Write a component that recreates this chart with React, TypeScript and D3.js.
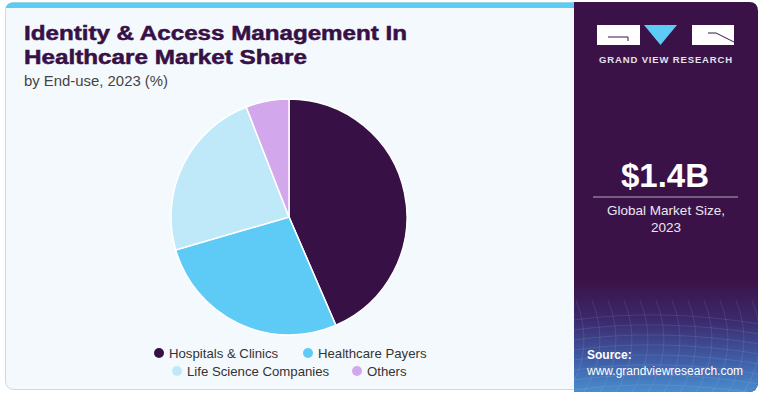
import React from "react";
import * as d3 from "d3";

const categories = ["Hospitals & Clinics", "Healthcare Payers", "Life Science Companies", "Others"];
const shares = [43.5, 27.0, 23.6, 5.9];
const colors = ["#371046", "#5ecbf6", "#bfe9f9", "#d3a7ec"];
const titleLines = ["Identity & Access Management In", "Healthcare Market Share"];
const subtitle = "by End-use, 2023 (%)";
const marketSize = "$1.4B";
const marketLabel = ["Global Market Size,", "2023"];

export default function App() {
  const W = 765, H = 396;
  const cx = 289, cy = 217, r = 118;
  const pie = d3.pie<number>().sort(null).value((d) => d)(shares);
  const arc = d3.arc<d3.PieArcDatum<number>>().innerRadius(0).outerRadius(r);

  const legendPos = [
    { x: 159, y: 353 },
    { x: 308, y: 353 },
    { x: 177, y: 371 },
    { x: 357, y: 371 },
  ];

  // decorative mesh in source area
  const meshLines: string[] = [];
  for (let i = 0; i < 14; i++) {
    const x0 = 560 + i * 16;
    meshLines.push(`M${x0},300 Q${x0 + 20},350 ${x0 - 10},395`);
  }
  for (let j = 0; j < 8; j++) {
    const y0 = 320 + j * 10;
    meshLines.push(`M574,${y0} Q660,${y0 - 12} 760,${y0 + 4}`);
  }

  const font = "'Liberation Sans', Arial, sans-serif";

  return (
    <div style={{ position: "absolute", left: 0, top: 0 }}>
      <svg width={W} height={H} style={{ display: "block" }}>
        <defs>
          <linearGradient id="srcGrad" x1="0" y1="0" x2="0" y2="1">
            <stop offset="0" stopColor="#3b1247" />
            <stop offset="0.35" stopColor="#3b2a6e" />
            <stop offset="0.7" stopColor="#3f5fa8" />
            <stop offset="1" stopColor="#4b93d3" />
          </linearGradient>
          <clipPath id="panelClip">
            <path d="M574,2 H749 Q758,2 758,11 V382 Q758,392 748,392 H574 Z" />
          </clipPath>
        </defs>
        <rect x={0} y={0} width={W} height={H} fill="#ffffff" />
        {/* card */}
        <rect x={5.5} y={2.5} width={752} height={387} rx={8} fill="#f4f9fd" stroke="#d4d6d9" strokeWidth={1} />
        <path d="M5.5,10 Q5.5,2.5 13,2.5 H574 V8 H5.5 Z" fill="#5ecbf6" />
        {/* right panel */}
        <g clipPath="url(#panelClip)">
          <rect x={574} y={0} width={190} height={396} fill="#3b1247" />
          <rect x={574} y={280} width={190} height={116} fill="url(#srcGrad)" />
          {meshLines.map((d, i) => (
            <path key={i} d={d} fill="none" stroke="#ffffff" strokeOpacity={0.12} strokeWidth={0.8} />
          ))}
        </g>
        {/* logo */}
        <rect x={597} y={25} width={43} height={20} fill="#ffffff" />
        <path d="M608,37 H628 V41" fill="none" stroke="#3b1247" strokeWidth={1} />
        <path d="M644,25 L677,25 L660.5,45 Z" fill="#5ecbf6" />
        <rect x={692} y={25} width={42} height={20} fill="#ffffff" />
        <path d="M716,33 L734,42" fill="none" stroke="#3b1247" strokeWidth={1} />
        <path d="M708,33 H716" fill="none" stroke="#3b1247" strokeWidth={1} />
        <text x={666} y={63} textAnchor="middle" fill="#e6e1ea" fontFamily={font} fontWeight="bold" fontSize={9.5} letterSpacing={0.85}>
          GRAND VIEW RESEARCH
        </text>
        {/* market size */}
        <text x={665} y={187} textAnchor="middle" fill="#ffffff" fontFamily={font} fontWeight="bold" fontSize={33}>
          {marketSize}
        </text>
        <line x1={593} x2={738} y1={197} y2={197} stroke="#b8a9c0" strokeWidth={1.2} />
        {marketLabel.map((t, i) => (
          <text key={i} x={666} y={215 + i * 17} textAnchor="middle" fill="#ece6ef" fontFamily={font} fontSize={13.5}>
            {t}
          </text>
        ))}
        <text x={587} y={359} fill="#ffffff" fontFamily={font} fontWeight="bold" fontSize={12}>
          Source:
        </text>
        <text x={587} y={375} fill="#ffffff" fontFamily={font} fontSize={12}>
          www.grandviewresearch.com
        </text>
        {/* title */}
        {titleLines.map((t, i) => (
          <text
            key={i}
            x={24}
            y={40 + i * 24}
            fill="#371046"
            fontFamily={font}
            fontWeight="900"
            fontSize={20}
            textLength={i === 0 ? 383 : 283}
            lengthAdjust="spacingAndGlyphs"
            stroke="#371046"
            strokeWidth={0.5}
          >
            {t}
          </text>
        ))}
        <text x={24} y={86} fill="#444444" fontFamily={font} fontSize={14} textLength={144} lengthAdjust="spacingAndGlyphs">
          {subtitle}
        </text>
        {/* pie */}
        <g transform={`translate(${cx},${cy})`}>
          {pie.map((p, i) => (
            <path key={i} d={arc(p) || ""} fill={colors[i]} stroke="#ffffff" strokeWidth={1.5} />
          ))}
        </g>
        {/* legend */}
        {categories.map((c, i) => (
          <g key={c}>
            <circle cx={legendPos[i].x} cy={legendPos[i].y} r={5} fill={colors[i]} />
            <text x={legendPos[i].x + 10} y={legendPos[i].y + 4.5} fill="#333333" fontFamily={font} fontSize={13.2}>
              {c}
            </text>
          </g>
        ))}
      </svg>
    </div>
  );
}
